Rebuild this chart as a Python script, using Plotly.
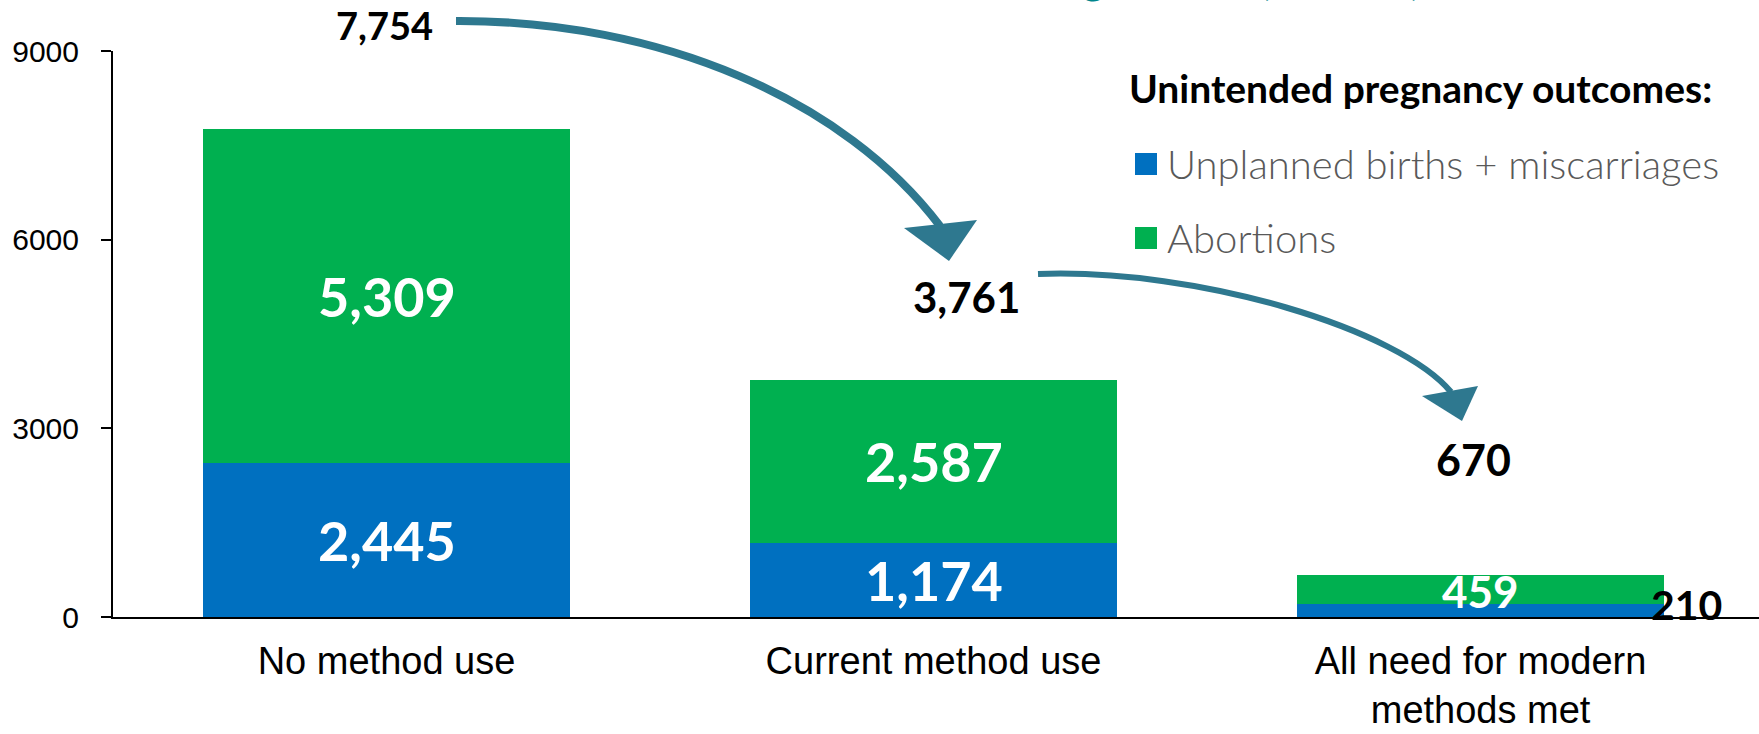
import plotly.graph_objects as go

# ---------------- data ----------------
categories = ["No method use", "Current method use", "All need for modern<br>methods met"]
unplanned_births_miscarriages = [2445, 1174, 210]
abortions = [5309, 2587, 459]
total_labels = [7754, 3761, 670]
series_names = ["Unplanned births + miscarriages", "Abortions"]
y_tick_values = [0, 3000, 6000, 9000]
legend_title = "Unintended pregnancy outcomes:"
chart_title = "Unintended Pregnancies (in 000s)"

# ---------------- style ----------------
BLUE = "#0070C0"
GREEN = "#00B050"
ARROW = "#2E788F"
TITLE_TEAL = "#00858C"
LEG_TEXT = "#595959"
NUM_FONT = "Lato"
AX_FONT = "Arial, Liberation Sans, sans-serif"

W, H = 1759, 734
L, R, T, B = 113, 0, 51, 117
PW, PH = W - L - R, H - T - B


def px(xp):
    return (xp - L) / PW


def py(yp):
    return (H - B - yp) / PH


def P(x, y):
    return f"{px(x):.5f},{py(y):.5f}"


xs = list(range(len(categories)))
bar_w = 0.671

fig = go.Figure()
fig.add_trace(go.Bar(x=xs, y=unplanned_births_miscarriages, width=bar_w,
                     marker=dict(color=BLUE, line=dict(width=0)),
                     name=series_names[0], showlegend=False))
fig.add_trace(go.Bar(x=xs, y=abortions, width=bar_w,
                     marker=dict(color=GREEN, line=dict(width=0)),
                     name=series_names[1], showlegend=False))

annotations = []
# in-bar segment labels: (color, size, xshift, yshift) per bar
blue_style = [("white", 54, 0, 0), ("white", 54, 0, 0), ("black", 41, 206, 6)]
green_style = [("white", 54, 0, 0), ("white", 54, 0, 0), ("white", 44, 0, -2)]
for i in xs:
    b = unplanned_births_miscarriages[i]
    g = abortions[i]
    c, s, dx, dy = blue_style[i]
    annotations.append(dict(x=i, y=b / 2, xref="x", yref="y", text=f"{b:,}", showarrow=False,
                            xshift=dx, yshift=dy, xanchor="center", yanchor="middle",
                            font=dict(family=NUM_FONT, size=s, color=c, weight="bold")))
    c, s, dx, dy = green_style[i]
    annotations.append(dict(x=i, y=b + g / 2, xref="x", yref="y", text=f"{g:,}", showarrow=False,
                            xshift=dx, yshift=dy, xanchor="center", yanchor="middle",
                            font=dict(family=NUM_FONT, size=s, color=c, weight="bold")))

# totals above the bars: (size, xshift, yshift)
total_style = [(38, -2, 104), (42, 33, 83), (43, -7, 115)]
for i in xs:
    top = unplanned_births_miscarriages[i] + abortions[i]
    s, dx, dy = total_style[i]
    annotations.append(dict(x=i, y=top, xref="x", yref="y", text=f"{total_labels[i]:,}",
                            showarrow=False, xshift=dx, yshift=dy, xanchor="center", yanchor="middle",
                            font=dict(family=NUM_FONT, size=s, color="black", weight="bold")))

# partially visible title at the very top
annotations.append(dict(x=px(1423), y=py(5), xref="paper", yref="paper", text=chart_title,
                        showarrow=False, xanchor="right", yanchor="bottom",
                        font=dict(family=NUM_FONT, size=43, color=TITLE_TEAL, weight="bold")))

# legend (manual, large squares)
annotations.append(dict(x=px(1127), y=py(88), xref="paper", yref="paper", text=legend_title,
                        showarrow=False, xanchor="left", yanchor="middle",
                        font=dict(family=NUM_FONT, size=39, color="black", weight="bold")))
shapes = []
for k, (name, col, cy) in enumerate([(series_names[0], BLUE, 164), (series_names[1], GREEN, 238)]):
    shapes.append(dict(type="rect", xref="paper", yref="paper",
                       x0=px(1135), x1=px(1157), y0=py(cy + 11), y1=py(cy - 11),
                       fillcolor=col, line=dict(width=0)))
    annotations.append(dict(x=px(1165), y=py(cy), xref="paper", yref="paper", text=name,
                            showarrow=False, xanchor="left", yanchor="middle",
                            font=dict(family=NUM_FONT, size=40, color=LEG_TEXT, weight=300)))

# curved arrows
arrow1 = "M " + P(456, 21) + " C " + P(660, 20) + " " + P(845, 100) + " " + P(940, 226)
head1 = "M " + P(904, 228) + " L " + P(977, 220) + " L " + P(949, 261) + " Z"
arrow2 = "M " + P(1038, 274) + " C " + P(1200, 268) + " " + P(1400, 330) + " " + P(1451, 392)
head2 = "M " + P(1422, 396) + " L " + P(1478, 386) + " L " + P(1462, 421) + " Z"
shapes += [
    dict(type="path", xref="paper", yref="paper", path=arrow1, line=dict(color=ARROW, width=8),
         fillcolor="rgba(0,0,0,0)", layer="above"),
    dict(type="path", xref="paper", yref="paper", path=head1, line=dict(width=0),
         fillcolor=ARROW, layer="above"),
    dict(type="path", xref="paper", yref="paper", path=arrow2, line=dict(color=ARROW, width=6),
         fillcolor="rgba(0,0,0,0)", layer="above"),
    dict(type="path", xref="paper", yref="paper", path=head2, line=dict(width=0),
         fillcolor=ARROW, layer="above"),
]

fig.update_layout(
    width=W, height=H,
    margin=dict(l=L, r=R, t=T, b=B, pad=0, autoexpand=False),
    barmode="stack",
    paper_bgcolor="white", plot_bgcolor="white",
    showlegend=False,
    annotations=annotations,
    shapes=shapes,
    xaxis=dict(type="linear", range=[-0.5, 2.509], tickmode="array", tickvals=xs, ticktext=categories,
               showline=True, linecolor="black", linewidth=2, ticks="", showgrid=False, zeroline=False,
               tickfont=dict(family=AX_FONT, size=38, color="black"), ticklabelstandoff=9,
               automargin=False, fixedrange=True),
    yaxis=dict(range=[0, 9000], tickmode="array", tickvals=y_tick_values,
               showline=True, linecolor="black", linewidth=2, ticks="outside", ticklen=10,
               tickwidth=2, tickcolor="black", showgrid=False, zeroline=False,
               tickfont=dict(family=AX_FONT, size=30, color="black"), ticklabelstandoff=16,
               automargin=False, fixedrange=True),
)

fig.write_html("out.html", config={"displayModeBar": False},
               post_script="document.body.style.margin='0';document.body.style.overflow='hidden';")
